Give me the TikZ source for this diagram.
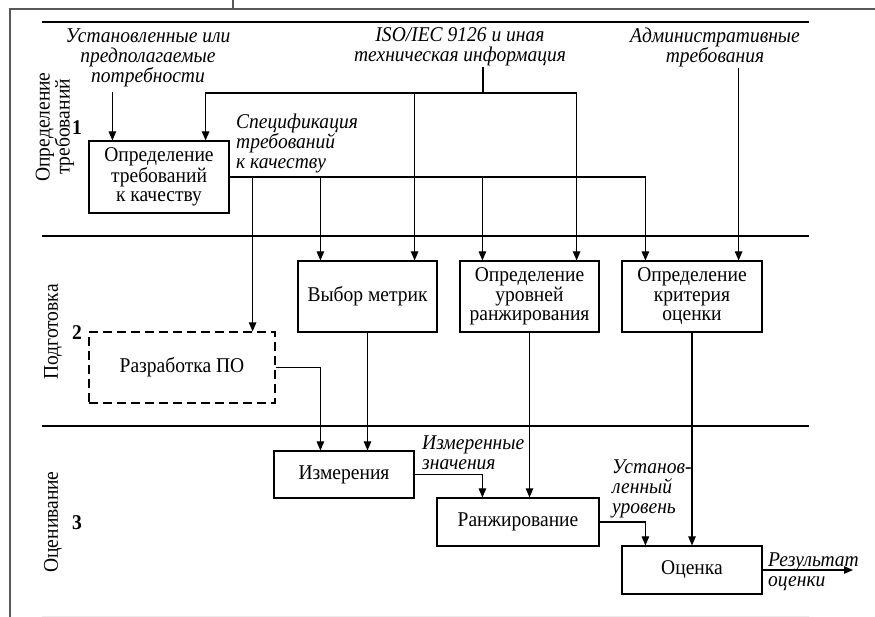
\documentclass[tikz,border=0pt]{standalone}
\usepackage{fontspec}
\setmainfont{Liberation Serif}[FakeStretch=0.93]
\usetikzlibrary{arrows.meta,positioning,calc}

\tikzset{
  box/.style={draw,line width=1.2pt,align=center,inner sep=2pt,font=\fontsize{21}{19.5}\selectfont},
  lbl/.style={font=\fontsize{21}{20}\selectfont\itshape,inner sep=1pt},
  lnk/.style={line width=1.1pt},
  arr/.style={lnk,-{Triangle[length=9pt,width=7.5pt]}},
  lane/.style={line width=2pt},
  lanename/.style={rotate=90,font=\fontsize{21}{20}\selectfont,align=center,inner sep=0pt},
  num/.style={font=\fontsize{21}{20}\selectfont\bfseries,inner sep=0pt}
}

\begin{document}
\begin{tikzpicture}[x=1pt,y=-1pt]
\useasboundingbox (0,0) rectangle (875,617);
%% frame and lanes
\draw[gray!70!black,line width=1.3pt] (10,617) -- (10,9) -- (875,9) (233,0) -- (233,9);
\foreach \y in {22,236,426}
  \draw[lane] (42,\y) -- (809,\y);
\draw[gray!15,line width=1pt] (42,616) -- (809,616);
%% lane names
\node[lanename] (lane1) at (55,127) {Определение\\требований};
\node[lanename] (lane2) at (53,332) {Подготовка};
\node[lanename] (lane3) at (53,522) {Оценивание};
\node[num] (num1) at (77,128) {1};
\node[num] (num2) at (77,333) {2};
\node[num] (num3) at (77,523) {3};
%% boxes
\node[box,minimum width=140pt,minimum height=72pt] (req) at (159,177) {Определение\\требований\\к качеству};
\node[box,minimum width=139pt,minimum height=71pt] (metr) at (367.5,296.5) {Выбор метрик};
\node[box,minimum width=139pt,minimum height=71pt] (lvl) at (529.5,296.5) {Определение\\уровней\\ранжирования};
\node[box,minimum width=140pt,minimum height=71pt] (crit) at (692,296.5) {Определение\\критерия\\оценки};
\node[box,dash pattern=on 9pt off 5pt,minimum width=186pt,minimum height=71pt] (dev) at (182,367.5) {Разработка ПО};
\node[box,minimum width=140pt,minimum height=47pt] (meas) at (344,474.5) {Измерения};
\node[box,minimum width=162pt,minimum height=48pt] (rank) at (518,522) {Ранжирование};
\node[box,minimum width=140pt,minimum height=48pt] (eval) at (692,570) {Оценка};
%% labels
\node[lbl,align=center] (need) at (148,58) {Установленные или\\предполагаемые\\потребности};
\node[lbl,align=center] (iso) at (460,47) {ISO/IEC 9126 и иная\\техническая информация};
\node[lbl,align=center] (adm) at (715,47) {Административные\\требования};
\node[lbl,align=left,anchor=west] (spec) at (235,143) {Спецификация\\требований\\к качеству};
\node[lbl,align=left,anchor=west] (mval) at (421,453) {Измеренные\\значения};
\node[lbl,align=left,anchor=west] (slvl) at (611,489) {Установ-\\ленный\\уровень};
\node[lbl,align=left,anchor=west] (res) at (767,572) {Результат\\оценки};
%% drop points
\coordinate (isoj) at (483,93);
\coordinate (reqneed) at ([xshift=24pt]req.north west);
\coordinate (reqiso) at ([xshift=-24pt]req.north east);
\coordinate (metriso) at ([xshift=-23pt]metr.north east);
\coordinate (lvliso) at ([xshift=-23pt]lvl.north east);
\coordinate (metrsp) at ([xshift=23pt]metr.north west);
\coordinate (lvlsp) at ([xshift=23pt]lvl.north west);
\coordinate (critsp) at ([xshift=24pt]crit.north west);
\coordinate (critadm) at ([xshift=-24pt]crit.north east);
\coordinate (devsp) at ([xshift=-23pt]dev.north east);
\coordinate (measdev) at ([xshift=47pt]meas.north west);
\coordinate (rankin) at ([xshift=46pt]rank.north west);
\coordinate (evalin) at ([xshift=24pt]eval.north west);
\coordinate (resout) at (853,570);
%% inputs
\draw[arr,shorten <=4pt] (need.south -| reqneed) -- (reqneed);
\draw[lnk] (iso.south -| isoj) -- (isoj);
\draw[arr] (isoj) -| (reqiso);
\draw[arr] (isoj) -| (lvliso);
\draw[arr] (metriso |- isoj) -- (metriso);
\draw[arr] (adm.south -| critadm) -- (critadm);
%% specification
\draw[arr] (req.east) -| (critsp);
\draw[arr] (metrsp |- req.east) -- (metrsp);
\draw[arr] (lvlsp |- req.east) -- (lvlsp);
\draw[arr] (devsp |- req.east) -- (devsp);
%% evaluation
\draw[arr] (dev.east) -| (measdev);
\draw[arr] (metr.south) -- (metr.south |- meas.north);
\draw[arr] (lvl.south) -- (lvl.south |- rank.north);
\draw[arr] (meas.east) -| (rankin);
\draw[arr] (rank.east) -| (evalin);
\draw[arr] (crit.south) -- (crit.south |- eval.north);
\draw[arr] (eval.east) -- (resout);
\end{tikzpicture}
\end{document}
